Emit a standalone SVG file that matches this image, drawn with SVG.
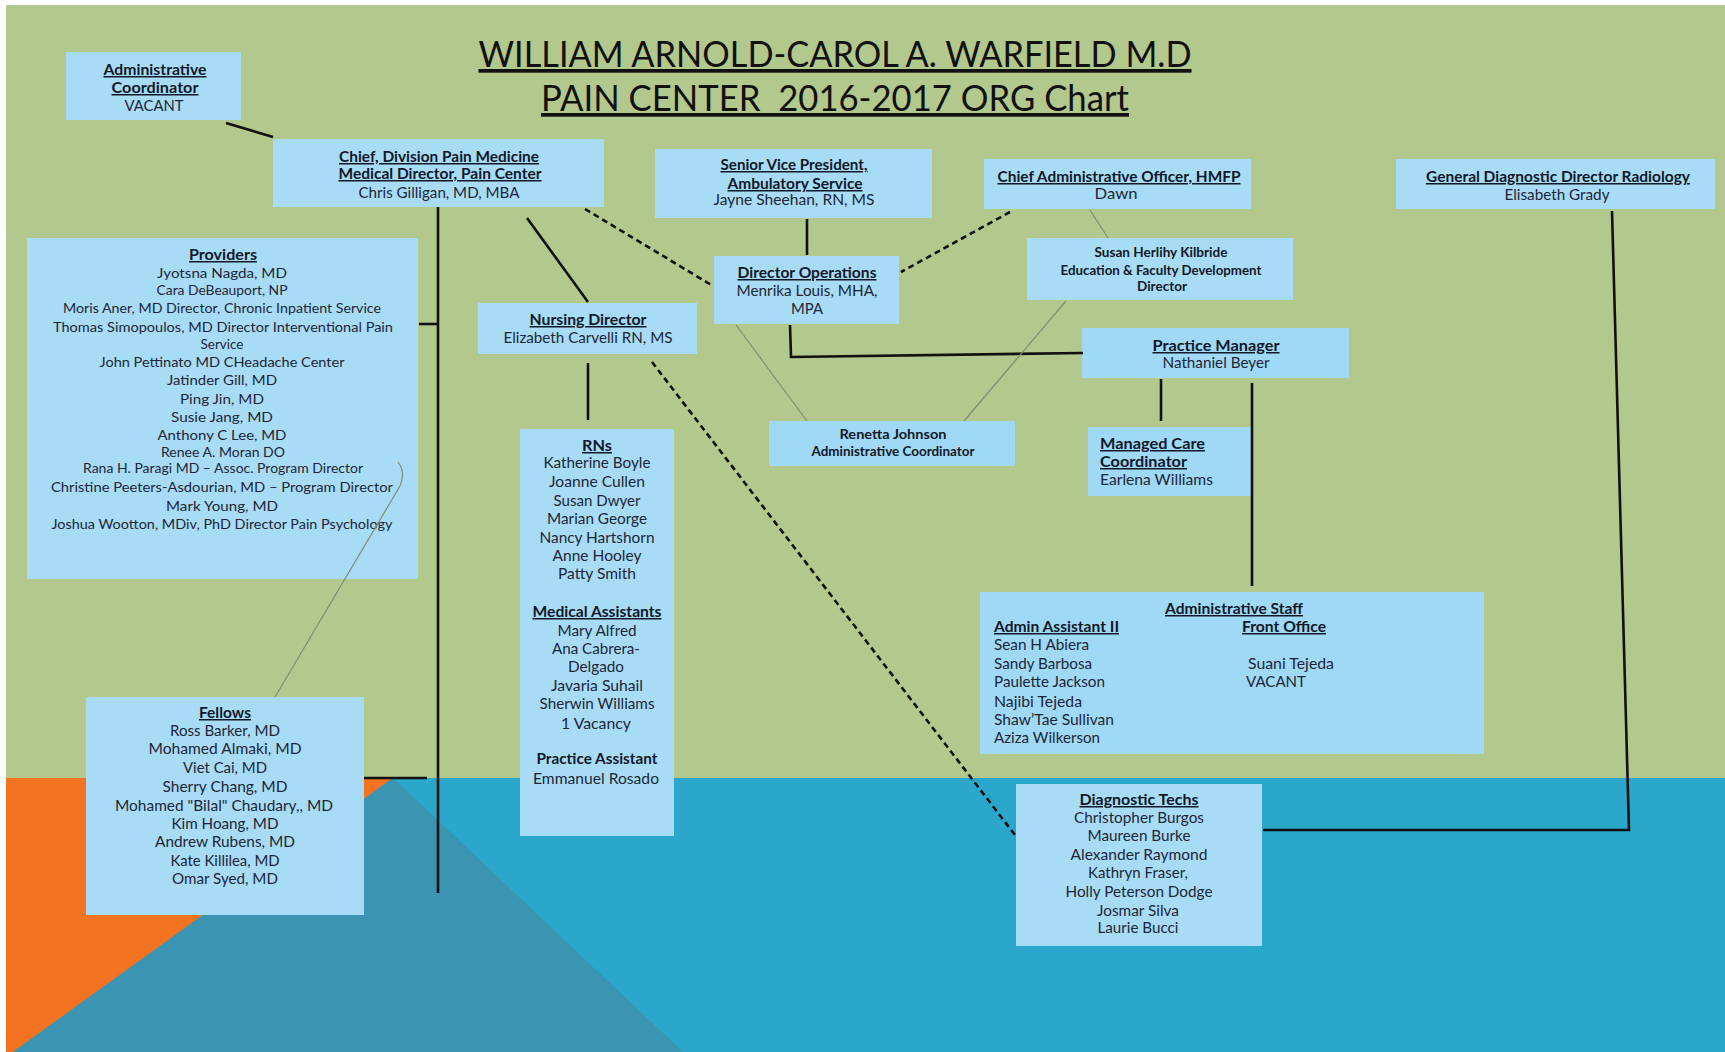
<svg xmlns="http://www.w3.org/2000/svg" width="1725" height="1052" viewBox="0 0 1725 1052">
<defs>
<style>
.box{fill:#a8dcf6}
.box2{fill:#9fd9f6}
.t{font-family:Lato,"Liberation Sans",sans-serif;font-size:15px;fill:#1d2636;text-anchor:middle}
.s{font-size:14px}
.l{text-anchor:start}
.h{font-weight:bold;text-decoration:underline;fill:#111827}
.b{font-weight:bold;fill:#111827}
.title{font-family:Lato,"Liberation Sans",sans-serif;font-size:37px;fill:#111111;text-anchor:middle;text-decoration:underline}
.c{stroke:#111;stroke-width:2.6;fill:none}
.d{stroke:#111;stroke-width:2.6;fill:none;stroke-dasharray:6 4}
.g{stroke:#7f8d74;stroke-width:1.2;fill:none}
</style>
</defs>
<rect x="0" y="0" width="1725" height="1052" fill="#ffffff"/>
<rect x="6" y="5" width="1719" height="774" fill="#b3c88c"/>
<rect x="6" y="778" width="1719" height="274" fill="#2aa7cb"/>
<polygon points="6,778 393,778 13,1052 6,1052" fill="#f47321"/>
<polygon points="393,778 683,1052 13,1052" fill="#3a94b2"/>

<g id="title">
<text class="title" x="835" y="67" textLength="713" lengthAdjust="spacingAndGlyphs">WILLIAM ARNOLD-CAROL A. WARFIELD M.D</text>
<text class="title" x="835" y="111" textLength="588" lengthAdjust="spacingAndGlyphs">PAIN CENTER&#160; 2016-2017 ORG Chart</text>
</g>

<g id="admin-coordinator">
<rect class="box" x="66" y="52" width="175" height="68"/>
<text class="t h" x="155" y="75" textLength="103" lengthAdjust="spacingAndGlyphs">Administrative</text>
<text class="t h" x="155" y="93" textLength="87" lengthAdjust="spacingAndGlyphs">Coordinator</text>
<text class="t" x="154" y="111" textLength="59" lengthAdjust="spacingAndGlyphs">VACANT</text>
</g>

<g id="chief">
<rect class="box" x="273" y="139" width="331" height="68"/>
<text class="t h" x="439" y="162" textLength="200" lengthAdjust="spacingAndGlyphs">Chief, Division Pain Medicine</text>
<text class="t h" x="440" y="179" textLength="203" lengthAdjust="spacingAndGlyphs">Medical Director, Pain Center</text>
<text class="t" x="439" y="198" textLength="161" lengthAdjust="spacingAndGlyphs">Chris Gilligan, MD, MBA</text>
</g>

<g id="svp">
<rect class="box" x="655" y="149" width="277" height="69"/>
<text class="t h" x="794" y="170" textLength="147" lengthAdjust="spacingAndGlyphs">Senior Vice President,</text>
<text class="t h" x="795" y="189" textLength="135" lengthAdjust="spacingAndGlyphs">Ambulatory Service</text>
<text class="t" x="794" y="205" textLength="161" lengthAdjust="spacingAndGlyphs">Jayne Sheehan, RN, MS</text>
</g>

<g id="cao">
<rect class="box" x="984" y="159" width="267" height="50"/>
<text class="t h" x="1119" y="182" textLength="243" lengthAdjust="spacingAndGlyphs">Chief Administrative Officer, HMFP</text>
<text class="t" x="1116" y="199" textLength="43" lengthAdjust="spacingAndGlyphs">Dawn</text>
</g>

<g id="radiology">
<rect class="box" x="1396" y="159" width="319" height="50"/>
<text class="t h" x="1558" y="182" textLength="264" lengthAdjust="spacingAndGlyphs">General Diagnostic Director Radiology</text>
<text class="t" x="1557" y="200" textLength="105" lengthAdjust="spacingAndGlyphs">Elisabeth Grady</text>
</g>

<g id="providers">
<rect class="box" x="27" y="238" width="391" height="341"/>
<text class="t h" x="223" y="260" textLength="68" lengthAdjust="spacingAndGlyphs">Providers</text>
<text class="t s" x="222" y="278" textLength="130" lengthAdjust="spacingAndGlyphs">Jyotsna  Nagda, MD</text>
<text class="t s" x="222" y="295" textLength="131" lengthAdjust="spacingAndGlyphs">Cara DeBeauport, NP</text>
<text class="t s" x="222" y="313" textLength="318" lengthAdjust="spacingAndGlyphs">Moris Aner, MD Director, Chronic Inpatient Service</text>
<text class="t s" x="223" y="332" textLength="340" lengthAdjust="spacingAndGlyphs">Thomas Simopoulos, MD Director Interventional Pain</text>
<text class="t s" x="222" y="349" textLength="43" lengthAdjust="spacingAndGlyphs">Service</text>
<text class="t s" x="222" y="367" textLength="245" lengthAdjust="spacingAndGlyphs">John Pettinato MD CHeadache Center</text>
<text class="t s" x="222" y="385" textLength="110" lengthAdjust="spacingAndGlyphs">Jatinder  Gill, MD</text>
<text class="t s" x="222" y="404" textLength="84" lengthAdjust="spacingAndGlyphs">Ping Jin, MD</text>
<text class="t s" x="222" y="422" textLength="102" lengthAdjust="spacingAndGlyphs">Susie Jang, MD</text>
<text class="t s" x="222" y="440" textLength="129" lengthAdjust="spacingAndGlyphs">Anthony C Lee, MD</text>
<text class="t s" x="223" y="457" textLength="124" lengthAdjust="spacingAndGlyphs">Renee A. Moran DO</text>
<text class="t s" x="223" y="473" textLength="280" lengthAdjust="spacingAndGlyphs">Rana H. Paragi MD – Assoc. Program Director</text>
<text class="t s" x="222" y="492" textLength="342" lengthAdjust="spacingAndGlyphs">Christine Peeters-Asdourian, MD – Program Director</text>
<text class="t s" x="222" y="511" textLength="112" lengthAdjust="spacingAndGlyphs">Mark Young, MD</text>
<text class="t s" x="222" y="529" textLength="341" lengthAdjust="spacingAndGlyphs">Joshua  Wootton, MDiv, PhD Director Pain Psychology</text>
</g>

<g id="nursing-director">
<rect class="box" x="478" y="303" width="219" height="51"/>
<text class="t h" x="588" y="325" textLength="117" lengthAdjust="spacingAndGlyphs">Nursing Director</text>
<text class="t" x="588" y="343" textLength="169" lengthAdjust="spacingAndGlyphs">Elizabeth  Carvelli RN, MS</text>
</g>

<g id="director-operations">
<rect class="box" x="714" y="256" width="185" height="68"/>
<text class="t h" x="807" y="278" textLength="139" lengthAdjust="spacingAndGlyphs">Director Operations</text>
<text class="t" x="807" y="296" textLength="141" lengthAdjust="spacingAndGlyphs">Menrika Louis, MHA,</text>
<text class="t" x="807" y="314" textLength="32" lengthAdjust="spacingAndGlyphs">MPA</text>
</g>

<g id="education-director">
<rect class="box" x="1027" y="238" width="266" height="62"/>
<text class="t s b" x="1161" y="257" textLength="133" lengthAdjust="spacingAndGlyphs">Susan Herlihy Kilbride</text>
<text class="t s b" x="1161" y="275" textLength="201" lengthAdjust="spacingAndGlyphs">Education &amp; Faculty Development</text>
<text class="t s b" x="1162" y="291" textLength="50" lengthAdjust="spacingAndGlyphs">Director</text>
</g>

<g id="practice-manager">
<rect class="box2" x="1082" y="328" width="267" height="50"/>
<text class="t h" x="1216" y="351" textLength="127" lengthAdjust="spacingAndGlyphs">Practice Manager</text>
<text class="t" x="1216" y="368" textLength="107" lengthAdjust="spacingAndGlyphs">Nathaniel Beyer</text>
</g>

<g id="renetta">
<rect class="box2" x="769" y="421" width="246" height="45"/>
<text class="t s b" x="893" y="439" textLength="107" lengthAdjust="spacingAndGlyphs">Renetta Johnson</text>
<text class="t s b" x="893" y="456" textLength="163" lengthAdjust="spacingAndGlyphs">Administrative Coordinator</text>
</g>

<g id="managed-care">
<rect class="box2" x="1088" y="427" width="163" height="69"/>
<text class="t h l" x="1100" y="449" textLength="105" lengthAdjust="spacingAndGlyphs">Managed Care</text>
<text class="t h l" x="1100" y="467" textLength="87" lengthAdjust="spacingAndGlyphs">Coordinator</text>
<text class="t l" x="1100" y="485" textLength="113" lengthAdjust="spacingAndGlyphs">Earlena Williams</text>
</g>

<g id="nursing-staff">
<rect class="box" x="520" y="429" width="154" height="407"/>
<text class="t h" x="597" y="451" textLength="30" lengthAdjust="spacingAndGlyphs">RNs</text>
<text class="t" x="597" y="468" textLength="107" lengthAdjust="spacingAndGlyphs">Katherine Boyle</text>
<text class="t" x="597" y="487" textLength="96" lengthAdjust="spacingAndGlyphs">Joanne  Cullen</text>
<text class="t" x="597" y="506" textLength="87" lengthAdjust="spacingAndGlyphs">Susan  Dwyer</text>
<text class="t" x="597" y="524" textLength="100" lengthAdjust="spacingAndGlyphs">Marian George</text>
<text class="t" x="597" y="543" textLength="115" lengthAdjust="spacingAndGlyphs">Nancy Hartshorn</text>
<text class="t" x="597" y="561" textLength="89" lengthAdjust="spacingAndGlyphs">Anne Hooley</text>
<text class="t" x="597" y="579" textLength="78" lengthAdjust="spacingAndGlyphs">Patty Smith</text>
<text class="t h" x="597" y="617" textLength="129" lengthAdjust="spacingAndGlyphs">Medical Assistants</text>
<text class="t" x="597" y="636" textLength="79" lengthAdjust="spacingAndGlyphs">Mary Alfred</text>
<text class="t" x="596" y="654" textLength="88" lengthAdjust="spacingAndGlyphs">Ana Cabrera-</text>
<text class="t" x="596" y="672" textLength="56" lengthAdjust="spacingAndGlyphs">Delgado</text>
<text class="t" x="597" y="691" textLength="92" lengthAdjust="spacingAndGlyphs">Javaria  Suhail</text>
<text class="t" x="597" y="709" textLength="115" lengthAdjust="spacingAndGlyphs">Sherwin Williams</text>
<text class="t" x="596" y="729" textLength="70" lengthAdjust="spacingAndGlyphs">1 Vacancy</text>
<text class="t b" x="597" y="764" textLength="121" lengthAdjust="spacingAndGlyphs">Practice Assistant</text>
<text class="t" x="596" y="784" textLength="126" lengthAdjust="spacingAndGlyphs">Emmanuel Rosado</text>
</g>

<g id="administrative-staff">
<rect class="box2" x="980" y="592" width="504" height="162"/>
<text class="t h" x="1234" y="614" textLength="138" lengthAdjust="spacingAndGlyphs">Administrative Staff</text>
<text class="t h l" x="994" y="632" textLength="125" lengthAdjust="spacingAndGlyphs">Admin Assistant II</text>
<text class="t h l" x="1242" y="632" textLength="84" lengthAdjust="spacingAndGlyphs">Front Office</text>
<text class="t l" x="994" y="650" textLength="95" lengthAdjust="spacingAndGlyphs">Sean H Abiera</text>
<text class="t l" x="994" y="669" textLength="98" lengthAdjust="spacingAndGlyphs">Sandy Barbosa</text>
<text class="t l" x="994" y="687" textLength="111" lengthAdjust="spacingAndGlyphs">Paulette Jackson</text>
<text class="t l" x="994" y="707" textLength="88" lengthAdjust="spacingAndGlyphs">Najibi Tejeda</text>
<text class="t l" x="994" y="725" textLength="120" lengthAdjust="spacingAndGlyphs">Shaw’Tae Sullivan</text>
<text class="t l" x="994" y="743" textLength="106" lengthAdjust="spacingAndGlyphs">Aziza Wilkerson</text>
<text class="t l" x="1248" y="669" textLength="86" lengthAdjust="spacingAndGlyphs">Suani Tejeda</text>
<text class="t l" x="1246" y="687" textLength="60" lengthAdjust="spacingAndGlyphs">VACANT</text>
</g>

<g id="diagnostic-techs">
<rect class="box" x="1016" y="784" width="246" height="162"/>
<text class="t h" x="1139" y="805" textLength="119" lengthAdjust="spacingAndGlyphs">Diagnostic Techs</text>
<text class="t" x="1139" y="823" textLength="130" lengthAdjust="spacingAndGlyphs">Christopher Burgos</text>
<text class="t" x="1139" y="841" textLength="103" lengthAdjust="spacingAndGlyphs">Maureen Burke</text>
<text class="t" x="1139" y="860" textLength="137" lengthAdjust="spacingAndGlyphs">Alexander Raymond</text>
<text class="t" x="1138" y="878" textLength="100" lengthAdjust="spacingAndGlyphs">Kathryn Fraser,</text>
<text class="t" x="1139" y="897" textLength="147" lengthAdjust="spacingAndGlyphs">Holly Peterson Dodge</text>
<text class="t" x="1138" y="916" textLength="82" lengthAdjust="spacingAndGlyphs">Josmar Silva</text>
<text class="t" x="1138" y="933" textLength="81" lengthAdjust="spacingAndGlyphs">Laurie Bucci</text>
</g>

<g id="fellows">
<rect class="box" x="86" y="697" width="278" height="218"/>
<text class="t h" x="225" y="718" textLength="52" lengthAdjust="spacingAndGlyphs">Fellows</text>
<text class="t" x="225" y="736" textLength="110" lengthAdjust="spacingAndGlyphs">Ross Barker, MD</text>
<text class="t" x="225" y="754" textLength="153" lengthAdjust="spacingAndGlyphs">Mohamed Almaki, MD</text>
<text class="t" x="225" y="773" textLength="84" lengthAdjust="spacingAndGlyphs">Viet  Cai, MD</text>
<text class="t" x="225" y="792" textLength="125" lengthAdjust="spacingAndGlyphs">Sherry  Chang, MD</text>
<text class="t" x="224" y="811" textLength="218" lengthAdjust="spacingAndGlyphs">Mohamed "Bilal" Chaudary,, MD</text>
<text class="t" x="225" y="829" textLength="107" lengthAdjust="spacingAndGlyphs">Kim Hoang, MD</text>
<text class="t" x="225" y="847" textLength="140" lengthAdjust="spacingAndGlyphs">Andrew Rubens, MD</text>
<text class="t" x="225" y="866" textLength="109" lengthAdjust="spacingAndGlyphs">Kate Killilea, MD</text>
<text class="t" x="225" y="884" textLength="106" lengthAdjust="spacingAndGlyphs">Omar Syed, MD</text>
</g>

<g id="connectors">
<line class="c" x1="226" y1="123" x2="273" y2="137"/>
<line class="c" x1="438" y1="207" x2="438" y2="893"/>
<line class="c" x1="419" y1="324" x2="438" y2="324"/>
<line class="c" x1="364" y1="778" x2="427" y2="778"/>
<line class="c" x1="527" y1="218" x2="588" y2="302"/>
<line class="c" x1="588" y1="363" x2="588" y2="420"/>
<line class="d" x1="585" y1="209" x2="713" y2="286"/>
<line class="d" x1="1010" y1="212" x2="901" y2="272"/>
<line class="c" x1="807" y1="219" x2="807" y2="255"/>
<polyline class="c" points="790,325 791,357 1083,353"/>
<line class="g" x1="736" y1="325" x2="807" y2="421"/>
<line class="g" x1="1066" y1="301" x2="964" y2="421"/>
<line class="g" x1="1090" y1="210" x2="1108" y2="238"/>
<path class="g" d="M275,697 L400,486 Q406,472 398,462"/>
<line class="c" x1="1161" y1="379" x2="1161" y2="421"/>
<line class="c" x1="1252" y1="383" x2="1252" y2="586"/>
<line class="d" x1="652" y1="362" x2="1015" y2="835"/>
<polyline class="c" points="1612,211 1629,830 1263,830"/>
</g>
</svg>
